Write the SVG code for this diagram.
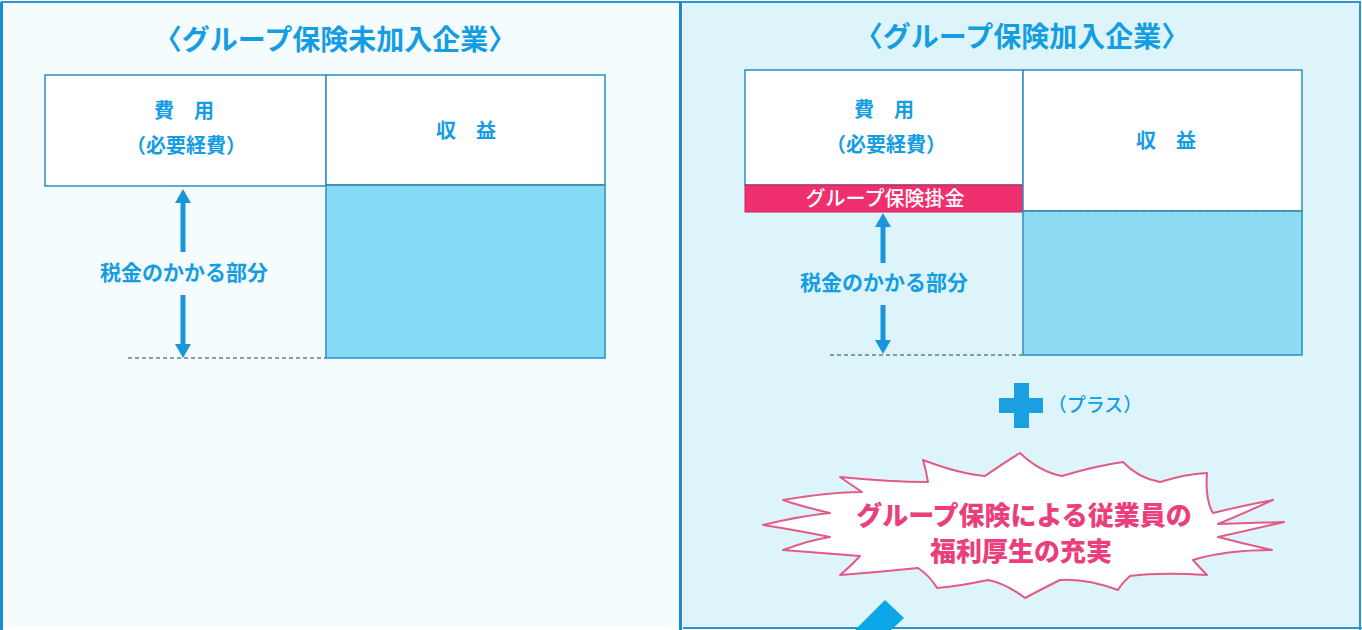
<svg xmlns="http://www.w3.org/2000/svg" width="1362" height="630" viewBox="0 0 1362 630">
<defs>
<style>
.t{font-family:"Noto Sans CJK JP","Noto Sans CJK SC",sans-serif;fill:#159de3;font-weight:700;text-anchor:middle}
.title{font-size:28px;font-weight:700}
.lbl{font-size:20px;font-weight:700}
.cell{fill:#ffffff;stroke:#2a8fc0;stroke-width:1.5}
.dash{stroke:#5f8296;stroke-width:1.5;stroke-dasharray:4 3;fill:none}
.shaft{stroke:#1a95dc;stroke-width:5;fill:none}
.head{fill:#1a95dc}
.burst{font-family:"Noto Sans CJK JP","Noto Sans CJK SC",sans-serif;font-weight:900;font-size:26px;fill:#ea3f7c;text-anchor:middle;stroke:#ffffff;stroke-width:1;paint-order:stroke}
</style>
</defs>
<g id="background">
<rect x="0" y="0" width="1362" height="630" fill="#ffffff"/>
<rect x="2" y="3" width="676" height="624" fill="#f4fcfd"/>
<rect x="683" y="3" width="676" height="624" fill="#ddf5fa"/>
<line x1="1" y1="2" x2="1361" y2="2" stroke="#2a95cf" stroke-width="2"/>
<line x1="1.5" y1="2" x2="1.5" y2="630" stroke="#1a8fd0" stroke-width="3"/>
<line x1="680.5" y1="2" x2="680.5" y2="630" stroke="#1a8acb" stroke-width="3"/>
<line x1="1360" y1="2" x2="1360" y2="630" stroke="#2a95cf" stroke-width="2"/>
<line x1="683" y1="628" x2="1362" y2="628" stroke="#2a95cf" stroke-width="2"/>
</g>
<g id="left-panel">
<text class="t title" x="335" y="50">〈グループ保険未加入企業〉</text>
<g id="left-expense">
<rect class="cell" x="45" y="75" width="281" height="111"/>
<text class="t lbl" x="184" y="118">費　用</text>
<text class="t lbl" x="186" y="153">（必要経費）</text>
</g>
<g id="left-revenue">
<rect class="cell" x="326" y="75" width="279" height="110"/>
<rect x="326" y="185" width="279" height="173" fill="#86dcf8" stroke="#2a8fc0" stroke-width="1.5"/>
<line class="dash" x1="326" y1="185" x2="605" y2="185"/>
<text class="t lbl" x="466" y="138">収　益</text>
</g>
<g id="left-taxable">
<text class="t lbl" x="184" y="280" style="font-size:21px">税金のかかる部分</text>
</g>
</g>
<g id="right-panel">
<text class="t title" x="1022" y="47">〈グループ保険加入企業〉</text>
<g id="right-expense">
<rect class="cell" x="745" y="70" width="278" height="115"/>
<text class="t lbl" x="884" y="117">費　用</text>
<text class="t lbl" x="886" y="152">（必要経費）</text>
</g>
<g id="premium">
<rect x="745" y="185" width="278" height="27" fill="#ef2f6e" stroke="#c8205a" stroke-width="1"/>
<text class="t" x="885" y="206" style="font-size:20px;font-weight:500;fill:#ffffff">グループ保険掛金</text>
</g>
<g id="right-revenue">
<rect class="cell" x="1023" y="70" width="279" height="141"/>
<rect x="1023" y="211" width="279" height="144" fill="#8edcf4" stroke="#2a8fc0" stroke-width="1.5"/>
<line class="dash" x1="1023" y1="211" x2="1302" y2="211"/>
<text class="t lbl" x="1166" y="148">収　益</text>
</g>
<g id="right-taxable">
<text class="t lbl" x="884" y="290" style="font-size:21px">税金のかかる部分</text>
</g>
<g id="plus">
<rect x="999" y="398" width="44" height="15" fill="#1a9fe0"/>
<rect x="1014" y="383" width="15" height="45" fill="#1a9fe0"/>
<text class="t" x="1095" y="412" style="font-size:19px;font-weight:500">（プラス）</text>
</g>
<g id="welfare">
<path d="M763,525 Q800,516 830,513 Q800,506 783,500 Q830,492 862,492 Q850,484 840,477 Q890,482 928,482 Q926,470 923,460 Q960,474 985,476 Q1005,462 1020,453 Q1040,472 1062,476 Q1095,466 1123,462 Q1138,478 1160,482 Q1185,474 1207,473 Q1205,500 1213,513 Q1245,505 1273,500 Q1240,515 1218,524 Q1250,523 1284,522 Q1250,530 1218,537 Q1245,544 1272,550 Q1225,550 1193,560 Q1200,568 1207,575 Q1160,572 1130,576 Q1122,583 1118,590 Q1085,578 1060,580 Q1040,590 1025,598 Q1005,583 988,580 Q960,586 937,588 Q930,576 918,568 Q880,572 840,575 Q852,565 860,556 Q820,553 783,550 Q810,540 830,537 Q795,530 763,525 Z" fill="#ffffff" stroke="#e35a88" stroke-width="2" stroke-linejoin="round"/>
<text class="burst" x="1024" y="525">グループ保険による従業員の</text>
<text class="burst" x="1021" y="561">福利厚生の充実</text>
</g>
<polygon id="tab" points="885,600 904,618 891,630 855,630" fill="#0aa6e8"/>
</g>
<g id="connectors">
<line class="dash" x1="128" y1="358" x2="326" y2="358"/>
<line class="shaft" x1="183" y1="200" x2="183" y2="252"/>
<polygon class="head" points="183,189 191,203 175,203"/>
<line class="shaft" x1="183" y1="295" x2="183" y2="346"/>
<polygon class="head" points="183,358 191,344 175,344"/>
<line class="dash" x1="830" y1="355" x2="1023" y2="355"/>
<line class="shaft" x1="883" y1="224" x2="883" y2="263"/>
<polygon class="head" points="883,213 891,227 875,227"/>
<line class="shaft" x1="883" y1="305" x2="883" y2="343"/>
<polygon class="head" points="883,354 891,340 875,340"/>
</g>
</svg>
